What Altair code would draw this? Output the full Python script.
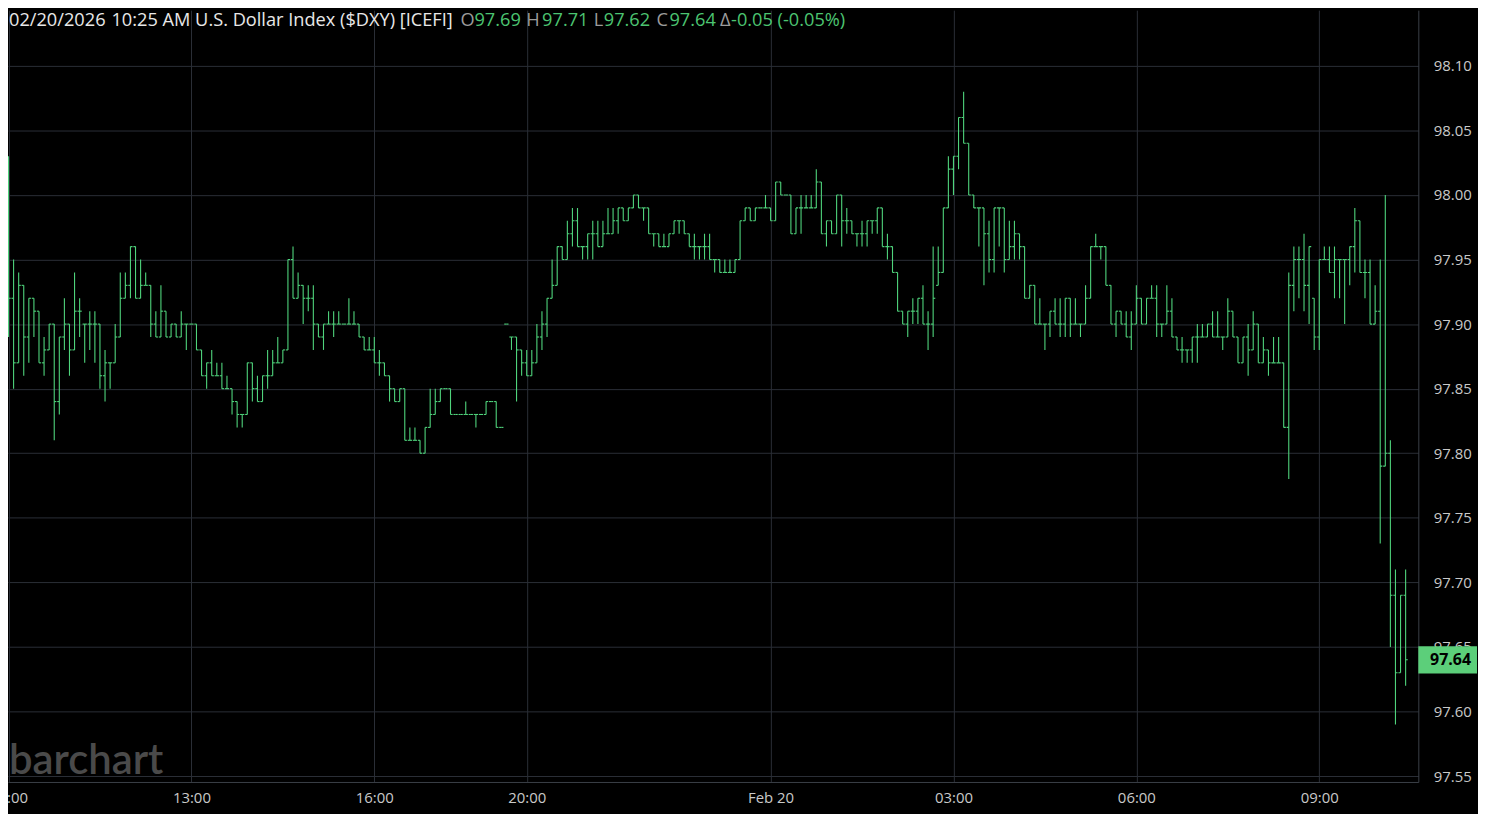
import altair as alt
import pandas as pd

# 5-minute OHLC bars, index 0 = 10:00 (Feb 19) ... 275 = 10:25 (Feb 20)
opens = [
    97.97, 97.92, 97.87, 97.93, 97.89, 97.92, 97.91, 97.87, 97.88, 97.90, 97.84, 97.89,
    97.90, 97.88, 97.91, 97.90, 97.90, 97.90, 97.90, 97.86, 97.87, 97.87, 97.89, 97.92,
    97.93, 97.96, 97.92, 97.93, 97.93, 97.90, 97.89, 97.91, 97.89, 97.90, 97.89, 97.90,
    97.90, 97.90, 97.88, 97.86, 97.87, 97.86, 97.86, 97.85, 97.85, 97.84, 97.83, 97.83,
    97.87, 97.85, 97.84, 97.86, 97.86, 97.87, 97.87, 97.88, 97.95, 97.92, 97.93, 97.92,
    97.92, 97.90, 97.89, 97.90, 97.90, 97.90, 97.90, 97.90, 97.90, 97.90, 97.89, 97.88,
    97.88, 97.87, 97.87, 97.86, 97.85, 97.84, 97.85, 97.81, 97.81, 97.81, 97.80, 97.82,
    97.83, 97.84, 97.85, 97.85, 97.83, 97.83, 97.83, 97.83, 97.83, 97.83, 97.83, 97.84,
    97.84, 97.82, 97.90, 97.89, 97.89, 97.88, 97.87, 97.86, 97.87, 97.89, 97.90, 97.92,
    97.93, 97.96, 97.95, 97.97, 97.98, 97.96, 97.96, 97.97, 97.97, 97.96, 97.97, 97.97,
    97.98, 97.99, 97.98, 97.99, 98.00, 97.99, 97.99, 97.97, 97.97, 97.96, 97.96, 97.97,
    97.98, 97.98, 97.97, 97.96, 97.96, 97.96, 97.96, 97.95, 97.95, 97.94, 97.94, 97.94,
    97.95, 97.98, 97.99, 97.98, 97.99, 97.99, 97.99, 97.98, 98.01, 98.00, 98.00, 97.97,
    97.99, 97.99, 97.99, 97.99, 98.01, 97.97, 97.98, 97.97, 98.00, 97.98, 97.98, 97.97,
    97.97, 97.97, 97.98, 97.98, 97.99, 97.96, 97.96, 97.94, 97.91, 97.90, 97.91, 97.91,
    97.92, 97.90, 97.90, 97.93, 97.94, 97.99, 98.02, 98.03, 98.06, 98.04, 98.00, 97.99,
    97.99, 97.97, 97.95, 97.99, 97.99, 97.95, 97.96, 97.97, 97.96, 97.92, 97.93, 97.90,
    97.90, 97.90, 97.91, 97.90, 97.90, 97.92, 97.90, 97.90, 97.90, 97.92, 97.96, 97.96,
    97.96, 97.93, 97.90, 97.91, 97.90, 97.89, 97.90, 97.92, 97.90, 97.92, 97.92, 97.90,
    97.90, 97.91, 97.89, 97.88, 97.88, 97.88, 97.89, 97.89, 97.89, 97.90, 97.89, 97.89,
    97.89, 97.91, 97.89, 97.87, 97.89, 97.88, 97.90, 97.87, 97.88, 97.87, 97.87, 97.87,
    97.82, 97.93, 97.95, 97.95, 97.93, 97.92, 97.89, 97.95, 97.95, 97.94, 97.95, 97.95,
    97.95, 97.96, 97.98, 97.94, 97.94, 97.90, 97.91, 97.79, 97.80, 97.69, 97.63, 97.69,
]
highs = [
    98.03, 97.95, 97.94, 97.93, 97.92, 97.92, 97.91, 97.89, 97.90, 97.90, 97.89, 97.92,
    97.90, 97.94, 97.92, 97.90, 97.91, 97.91, 97.90, 97.88, 97.87, 97.90, 97.94, 97.94,
    97.96, 97.96, 97.95, 97.94, 97.93, 97.91, 97.93, 97.91, 97.90, 97.90, 97.91, 97.90,
    97.90, 97.90, 97.88, 97.87, 97.88, 97.87, 97.87, 97.86, 97.85, 97.84, 97.83, 97.87,
    97.87, 97.86, 97.86, 97.88, 97.88, 97.89, 97.88, 97.95, 97.96, 97.94, 97.93, 97.93,
    97.93, 97.90, 97.90, 97.91, 97.91, 97.91, 97.90, 97.92, 97.91, 97.90, 97.89, 97.89,
    97.89, 97.88, 97.87, 97.86, 97.85, 97.85, 97.85, 97.82, 97.82, 97.81, 97.82, 97.85,
    97.85, 97.85, 97.85, 97.85, 97.83, 97.83, 97.84, 97.83, 97.83, 97.83, 97.84, 97.84,
    97.84, 97.82, 97.90, 97.89, 97.89, 97.88, 97.88, 97.88, 97.90, 97.91, 97.92, 97.95,
    97.96, 97.96, 97.98, 97.99, 97.99, 97.96, 97.97, 97.98, 97.98, 97.98, 97.99, 97.99,
    97.99, 97.99, 97.99, 98.00, 98.00, 97.99, 97.99, 97.97, 97.97, 97.97, 97.97, 97.98,
    97.98, 97.98, 97.97, 97.97, 97.96, 97.97, 97.97, 97.95, 97.95, 97.95, 97.95, 97.95,
    97.98, 97.99, 97.99, 97.99, 97.99, 98.00, 97.99, 98.01, 98.01, 98.00, 98.00, 97.99,
    98.00, 98.00, 98.00, 98.02, 98.01, 97.98, 97.98, 98.00, 98.00, 97.99, 97.98, 97.97,
    97.98, 97.98, 97.98, 97.99, 97.99, 97.97, 97.96, 97.94, 97.91, 97.91, 97.92, 97.92,
    97.93, 97.91, 97.96, 97.96, 97.99, 98.03, 98.03, 98.06, 98.08, 98.04, 98.00, 97.99,
    97.99, 97.98, 97.99, 97.99, 97.99, 97.98, 97.98, 97.97, 97.96, 97.93, 97.93, 97.92,
    97.90, 97.91, 97.92, 97.92, 97.92, 97.92, 97.92, 97.90, 97.93, 97.96, 97.97, 97.96,
    97.96, 97.93, 97.91, 97.91, 97.91, 97.91, 97.93, 97.92, 97.92, 97.93, 97.93, 97.90,
    97.93, 97.92, 97.89, 97.89, 97.88, 97.89, 97.90, 97.90, 97.90, 97.91, 97.91, 97.89,
    97.92, 97.91, 97.89, 97.89, 97.90, 97.91, 97.90, 97.89, 97.88, 97.89, 97.89, 97.87,
    97.94, 97.96, 97.96, 97.97, 97.96, 97.92, 97.95, 97.96, 97.96, 97.96, 97.95, 97.95,
    97.96, 97.99, 97.98, 97.95, 97.95, 97.93, 97.95, 98.00, 97.81, 97.71, 97.69, 97.71,
]
lows = [
    97.89, 97.85, 97.87, 97.86, 97.87, 97.89, 97.87, 97.86, 97.88, 97.81, 97.83, 97.88,
    97.86, 97.88, 97.89, 97.87, 97.88, 97.87, 97.85, 97.84, 97.85, 97.87, 97.89, 97.92,
    97.92, 97.92, 97.92, 97.93, 97.89, 97.89, 97.89, 97.89, 97.89, 97.89, 97.89, 97.88,
    97.90, 97.88, 97.86, 97.85, 97.86, 97.86, 97.85, 97.85, 97.83, 97.82, 97.82, 97.83,
    97.84, 97.84, 97.84, 97.85, 97.86, 97.87, 97.87, 97.88, 97.92, 97.92, 97.90, 97.91,
    97.88, 97.89, 97.88, 97.90, 97.89, 97.90, 97.90, 97.90, 97.90, 97.89, 97.88, 97.88,
    97.87, 97.86, 97.86, 97.84, 97.84, 97.84, 97.81, 97.81, 97.81, 97.80, 97.80, 97.82,
    97.83, 97.84, 97.85, 97.83, 97.83, 97.83, 97.83, 97.83, 97.82, 97.83, 97.83, 97.84,
    97.82, 97.82, 97.90, 97.88, 97.84, 97.86, 97.86, 97.86, 97.87, 97.88, 97.89, 97.92,
    97.93, 97.95, 97.95, 97.96, 97.96, 97.95, 97.95, 97.95, 97.96, 97.96, 97.97, 97.97,
    97.97, 97.98, 97.98, 97.99, 97.99, 97.98, 97.97, 97.96, 97.96, 97.96, 97.96, 97.97,
    97.97, 97.97, 97.96, 97.95, 97.95, 97.95, 97.95, 97.94, 97.94, 97.94, 97.94, 97.94,
    97.95, 97.98, 97.98, 97.98, 97.99, 97.99, 97.98, 97.98, 98.00, 98.00, 97.97, 97.97,
    97.97, 97.99, 97.99, 97.99, 97.97, 97.96, 97.97, 97.97, 97.96, 97.97, 97.97, 97.96,
    97.96, 97.96, 97.97, 97.97, 97.96, 97.95, 97.94, 97.91, 97.90, 97.89, 97.90, 97.90,
    97.90, 97.88, 97.89, 97.93, 97.94, 97.99, 98.00, 98.02, 98.04, 98.00, 97.99, 97.96,
    97.93, 97.94, 97.94, 97.96, 97.94, 97.95, 97.95, 97.95, 97.92, 97.92, 97.90, 97.90,
    97.88, 97.89, 97.90, 97.89, 97.89, 97.89, 97.90, 97.89, 97.90, 97.92, 97.96, 97.95,
    97.93, 97.90, 97.89, 97.90, 97.89, 97.88, 97.90, 97.90, 97.90, 97.92, 97.89, 97.89,
    97.90, 97.89, 97.88, 97.87, 97.87, 97.87, 97.87, 97.89, 97.89, 97.89, 97.89, 97.88,
    97.89, 97.89, 97.87, 97.87, 97.86, 97.88, 97.87, 97.87, 97.86, 97.87, 97.87, 97.82,
    97.78, 97.91, 97.92, 97.91, 97.90, 97.88, 97.88, 97.95, 97.94, 97.92, 97.92, 97.90,
    97.93, 97.94, 97.94, 97.92, 97.90, 97.90, 97.73, 97.79, 97.65, 97.59, 97.63, 97.62,
]
closes = [
    97.92, 97.87, 97.93, 97.89, 97.92, 97.91, 97.87, 97.88, 97.90, 97.84, 97.89, 97.90,
    97.88, 97.91, 97.91, 97.90, 97.90, 97.90, 97.86, 97.87, 97.87, 97.89, 97.92, 97.93,
    97.96, 97.92, 97.93, 97.93, 97.90, 97.89, 97.91, 97.89, 97.90, 97.89, 97.90, 97.90,
    97.90, 97.88, 97.86, 97.87, 97.86, 97.86, 97.85, 97.85, 97.84, 97.83, 97.83, 97.87,
    97.85, 97.84, 97.86, 97.86, 97.87, 97.87, 97.88, 97.95, 97.92, 97.93, 97.92, 97.92,
    97.90, 97.89, 97.90, 97.90, 97.90, 97.90, 97.90, 97.90, 97.90, 97.89, 97.88, 97.88,
    97.87, 97.87, 97.86, 97.85, 97.84, 97.85, 97.81, 97.81, 97.81, 97.80, 97.82, 97.83,
    97.84, 97.85, 97.85, 97.83, 97.83, 97.83, 97.83, 97.83, 97.83, 97.83, 97.84, 97.84,
    97.82, 97.82, 97.90, 97.89, 97.88, 97.87, 97.86, 97.87, 97.89, 97.90, 97.92, 97.93,
    97.96, 97.95, 97.97, 97.98, 97.96, 97.96, 97.97, 97.97, 97.96, 97.97, 97.97, 97.98,
    97.99, 97.98, 97.99, 98.00, 97.99, 97.99, 97.97, 97.97, 97.96, 97.96, 97.97, 97.98,
    97.98, 97.97, 97.96, 97.96, 97.96, 97.96, 97.95, 97.95, 97.94, 97.94, 97.94, 97.95,
    97.98, 97.99, 97.98, 97.99, 97.99, 97.99, 97.98, 98.01, 98.00, 98.00, 97.97, 97.99,
    97.99, 97.99, 97.99, 98.01, 97.97, 97.98, 97.97, 98.00, 97.98, 97.98, 97.97, 97.97,
    97.97, 97.98, 97.98, 97.99, 97.96, 97.96, 97.94, 97.91, 97.90, 97.91, 97.91, 97.92,
    97.90, 97.90, 97.92, 97.94, 97.99, 98.02, 98.03, 98.06, 98.04, 98.00, 97.99, 97.99,
    97.97, 97.95, 97.99, 97.99, 97.95, 97.96, 97.97, 97.96, 97.92, 97.93, 97.90, 97.90,
    97.90, 97.91, 97.90, 97.90, 97.92, 97.90, 97.90, 97.90, 97.92, 97.96, 97.96, 97.96,
    97.93, 97.90, 97.91, 97.90, 97.89, 97.90, 97.92, 97.90, 97.92, 97.92, 97.90, 97.90,
    97.91, 97.89, 97.88, 97.88, 97.88, 97.89, 97.89, 97.89, 97.90, 97.89, 97.89, 97.89,
    97.91, 97.89, 97.87, 97.89, 97.88, 97.90, 97.87, 97.88, 97.87, 97.87, 97.87, 97.82,
    97.93, 97.95, 97.95, 97.93, 97.96, 97.89, 97.95, 97.95, 97.94, 97.95, 97.95, 97.95,
    97.96, 97.98, 97.94, 97.94, 97.90, 97.91, 97.79, 97.80, 97.69, 97.63, 97.69, 97.64,
]

x_tick_index = [0, 36, 72, 102, 150, 186, 222, 258]
x_tick_labels = ["10:00", "13:00", "16:00", "20:00", "Feb 20", "03:00", "06:00", "09:00"]
y_ticks = [97.55, 97.60, 97.65, 97.70, 97.75, 97.80, 97.85, 97.90, 97.95, 98.00, 98.05, 98.10]

header_title = ["02/20/2026", "10:25 AM U.S. Dollar Index ($DXY) [ICEFI]"]
header_keys = ["O", "H", "L", "C", "\u0394"]
header_vals = ["97.69", "97.71", "97.62", "97.64", "-0.05 (-0.05%)"]
last_price = closes[-1]

GREEN = "#4fd47c"
GRID = "#2a2e36"
AXIS_TXT = "#c9c9c9"
FONT = "Open Sans"
W, H = 1418, 776

df = pd.DataFrame({"i": list(range(len(closes))), "o": opens, "h": highs, "l": lows, "c": closes})

xscale = alt.Scale(domain=[-0.1, 277.5], nice=False, zero=False)
yscale = alt.Scale(domain=[97.5454, 98.1431], nice=False, zero=False)

label_expr = " : ".join(
    f"datum.value == {v} ? '{t}'" for v, t in zip(x_tick_index, x_tick_labels)
) + " : ''"

xaxis = alt.Axis(values=x_tick_index, labelExpr=label_expr, grid=True, gridColor=GRID,
                 gridWidth=1, ticks=False, tickSize=0, labelColor=AXIS_TXT, labelFont=FONT,
                 labelFontSize=15, labelPadding=9, domainColor="#3a3f47", title=None,
                 labelOverlap=False, labelFlush=False, labelBound=False)
yaxis = alt.Axis(orient="right", values=y_ticks, format=".2f", grid=True, gridColor=GRID,
                 gridWidth=1, ticks=False, tickSize=0, labelColor=AXIS_TXT, labelFont=FONT,
                 labelFontSize=15, labelPadding=15, domainColor="#3a3f47", title=None,
                 labelOverlap=False)

base = alt.Chart(df)
hl = base.mark_rule(color=GREEN, strokeWidth=1.1, clip=True).encode(
    x=alt.X("i:Q", scale=xscale, axis=xaxis),
    y=alt.Y("l:Q", scale=yscale, axis=yaxis),
    y2="h:Q",
)
otick = base.transform_calculate(x0="datum.i - 0.42").mark_rule(
    color=GREEN, strokeWidth=1.1, clip=True).encode(
    x=alt.X("x0:Q", scale=xscale), x2="i:Q", y=alt.Y("o:Q", scale=yscale))
ctick = base.transform_calculate(x1="datum.i + 0.42").mark_rule(
    color=GREEN, strokeWidth=1.1, clip=True).encode(
    x=alt.X("i:Q", scale=xscale), x2="x1:Q", y=alt.Y("c:Q", scale=yscale))

one = pd.DataFrame({"a": [0]})


def txt(s, x, y, color, size=18.3, weight="normal", align="left", font=FONT):
    return alt.Chart(one).mark_text(
        text=s, align=align, baseline="middle", font=font, fontSize=size,
        fontWeight=weight, color=color).encode(x=alt.value(x), y=alt.value(y))


layers = [hl, otick, ctick]
# header
HY = 11
hx_title = [1, 104]
for s, x in zip(header_title, hx_title):
    layers.append(txt(s, x, HY, "#e8e8e8"))
key_x = [455, 521, 589, 652, 716]
val_x = [469, 537, 599, 665, 727]
for k, kx, v, vx in zip(header_keys, key_x, header_vals, val_x):
    layers.append(txt(k, kx, HY, "#9b9b9b"))
    layers.append(txt(v, vx, HY, "#4cc471"))

# watermark
layers.append(alt.Chart(one).mark_text(
    text="barchart", align="left", baseline="alphabetic", font="Lato", fontSize=42,
    fontWeight=600, color="#4a4a4a").encode(x=alt.value(1), y=alt.value(H - 8)))

# last price label
box = alt.Chart(one).mark_rect(color="#5ccf7a").encode(
    x=alt.value(W), x2=alt.value(W + 59),
    y=alt.Y(datum=last_price + 0.0105, scale=yscale),
    y2=alt.Y2(datum=last_price - 0.0105))
box_txt = alt.Chart(one).mark_text(
    text=f"{last_price:.2f}", align="right", baseline="middle", font=FONT, fontSize=16,
    fontWeight="bold", color="#000000").encode(
    x=alt.value(W + 53), y=alt.Y(datum=last_price, scale=yscale))
layers += [box, box_txt]

chart = alt.layer(*layers).properties(
    width=W, height=H,
    padding={"left": 0, "top": 0, "right": 60, "bottom": 30},
    autosize=alt.AutoSizeParams(type="none"),
    background="#000000",
).configure_view(stroke=None)

chart.save("out.html", embed_options={"renderer": "svg", "actions": False})
